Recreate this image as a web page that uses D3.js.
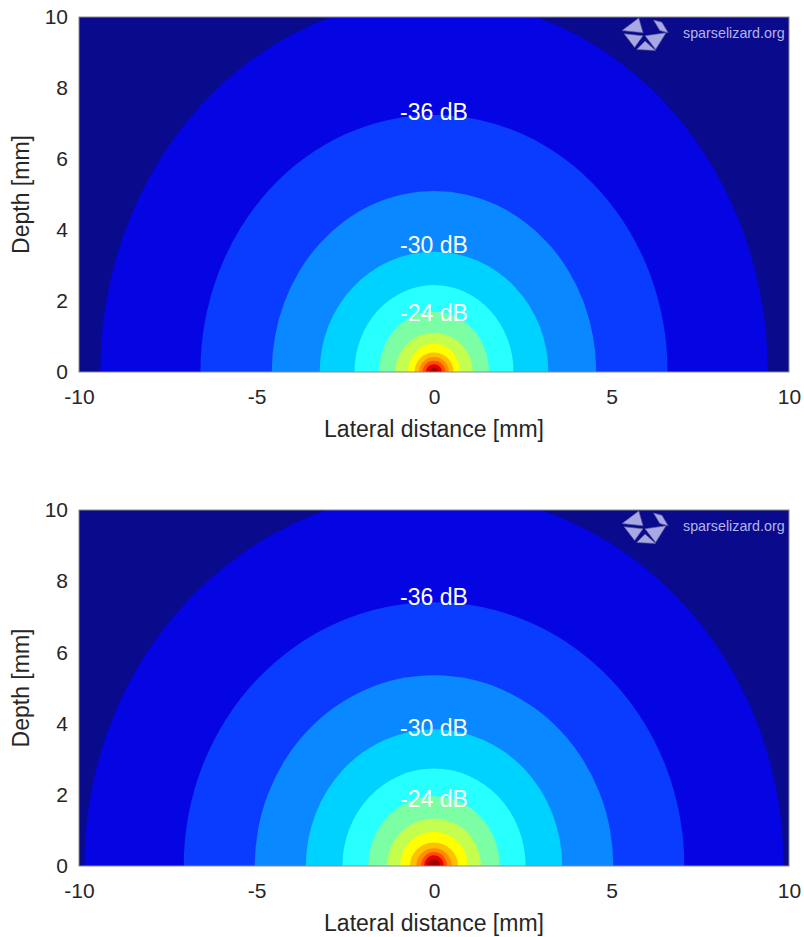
<!DOCTYPE html>
<html>
<head>
<meta charset="utf-8">
<script src="https://cdn.jsdelivr.net/npm/d3@7"></script>
<style>
  body { margin: 0; background: #fff; }
  svg text { font-family: Arial, "Liberation Sans", sans-serif; }
</style>
</head>
<body>
<svg id="chart" width="804" height="937"></svg>
<script>
// contour levels in dB, outermost first
const levels = [-39, -36, -33, -30, -27, -24, -21, -18, -15, -12, -9, -6, -3];
const outsideColor = "#0a0a8c";
const bandColors = ["#0505e4", "#0a3cff", "#0a88ff", "#00d2ff", "#28ffff", "#7cffa4",
  "#c4ff50", "#ffff00", "#ffc000", "#ff8c00", "#ff4e00", "#e80000", "#a00000"];

// half width (lateral, mm) and height (depth, mm) of each contour, top panel
const topHalfWidth  = [9.40, 6.58, 4.57, 3.22, 2.24, 1.55, 1.09, 0.73, 0.55, 0.42, 0.32, 0.23, 0.13];
const topHalfDepth  = [10.5, 7.24, 5.10, 3.39, 2.45, 1.70, 1.10, 0.80, 0.55, 0.42, 0.32, 0.22, 0.12];
// bottom panel
const bottomHalfWidth = [9.85, 7.05, 5.05, 3.61, 2.58, 1.85, 1.32, 0.95, 0.68, 0.50, 0.37, 0.28, 0.18];
const bottomHalfDepth = [10.5, 7.41, 5.36, 3.84, 2.74, 1.96, 1.33, 0.96, 0.66, 0.50, 0.39, 0.30, 0.20];

// contour labels
const labelLevels = [-36, -30, -24];
const topLabelDepth = [7.32, 3.58, 1.66];
const bottomLabelDepth = [7.57, 3.88, 1.90];

const xTicks = [-10, -5, 0, 5, 10];
const yTicks = [0, 2, 4, 6, 8, 10];

const svg = d3.select("#chart");
const left = 79, right = 789;

const x = d3.scaleLinear().domain([-10, 10]).range([left, right]);

function drawPanel(id, top, bottom, halfWidth, halfDepth, labelDepth) {
  const y = d3.scaleLinear().domain([0, 10]).range([bottom, top]);
  const g = svg.append("g");

  g.append("clipPath").attr("id", id)
    .append("rect")
    .attr("x", left).attr("y", top)
    .attr("width", right - left).attr("height", bottom - top);

  const plot = g.append("g").attr("clip-path", `url(#${id})`);

  plot.append("rect")
    .attr("x", left).attr("y", top)
    .attr("width", right - left).attr("height", bottom - top)
    .attr("fill", outsideColor);

  plot.selectAll("ellipse")
    .data(levels)
    .join("ellipse")
    .attr("cx", x(0))
    .attr("cy", y(0))
    .attr("rx", (d, i) => x(halfWidth[i]) - x(0))
    .attr("ry", (d, i) => y(0) - y(halfDepth[i]))
    .attr("fill", (d, i) => bandColors[i]);

  // contour labels
  g.selectAll(".clabel")
    .data(labelLevels)
    .join("text")
    .attr("class", "clabel")
    .attr("x", x(0))
    .attr("y", (d, i) => y(labelDepth[i]))
    .attr("dy", "0.36em")
    .attr("text-anchor", "middle")
    .attr("fill", "#fff")
    .attr("font-size", 23)
    .text(d => `${d} dB`);

  // watermark
  const logo = g.append("g").attr("transform", `translate(622, ${top + 1}) scale(1.05)`)
    .attr("fill", "#a8a8e4").attr("stroke", "#5a5a9a").attr("stroke-width", 0.6);
  logo.append("path").attr("d", "M16,0 L0,12 L20,14 Z");
  logo.append("path").attr("d", "M2,15 L20,17 L12,28 Z");
  logo.append("path").attr("d", "M22,17 L42,14 L32,30 Z");
  logo.append("path").attr("d", "M14,30 L32,31 L22,22 Z");
  logo.append("path").attr("d", "M30,2 L36,12 L44,14 L38,4 Z");
  g.append("text")
    .attr("x", 683).attr("y", top + 21)
    .attr("fill", "#b4b4ea")
    .attr("font-size", 14.3)
    .attr("font-family", "'Open Sans', 'Noto Sans', sans-serif")
    .text("sparselizard.org");

  // frame
  g.append("rect")
    .attr("x", left).attr("y", top)
    .attr("width", right - left).attr("height", bottom - top)
    .attr("fill", "none").attr("stroke", "#8a8a8a").attr("stroke-width", 1);

  // axes
  const xAxis = g.append("g")
    .attr("transform", `translate(0,${bottom})`)
    .call(d3.axisBottom(x).tickValues(xTicks).tickSize(0).tickPadding(17).tickFormat(d => String(d)));
  const yAxis = g.append("g")
    .attr("transform", `translate(${left},0)`)
    .call(d3.axisLeft(y).tickValues(yTicks).tickSize(0).tickPadding(11).tickFormat(d => String(d)));
  [xAxis, yAxis].forEach(a => {
    a.select(".domain").remove();
    a.selectAll("text")
      .attr("font-size", 21)
      .attr("fill", "#262626")
      .attr("font-family", "Arial, 'Liberation Sans', sans-serif");
  });

  g.append("text")
    .attr("x", x(0)).attr("y", bottom + 65)
    .attr("text-anchor", "middle")
    .attr("font-size", 23)
    .attr("fill", "#262626")
    .text("Lateral distance [mm]");

  g.append("text")
    .attr("transform", `translate(29,${(top + bottom) / 2}) rotate(-90)`)
    .attr("text-anchor", "middle")
    .attr("font-size", 23)
    .attr("fill", "#262626")
    .text("Depth [mm]");
}

drawPanel("clipTop", 17, 372, topHalfWidth, topHalfDepth, topLabelDepth);
drawPanel("clipBottom", 510, 866, bottomHalfWidth, bottomHalfDepth, bottomLabelDepth);
</script>
</body>
</html>
